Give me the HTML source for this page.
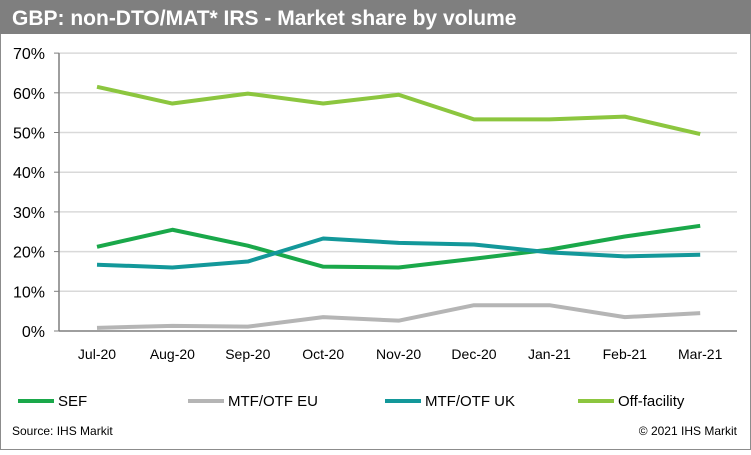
<!DOCTYPE html>
<html><head><meta charset="utf-8"><style>
body{margin:0;width:751px;height:450px;overflow:hidden;background:#fff;font-family:"Liberation Sans",Arial,sans-serif}
</style></head><body>
<svg id="chart" width="751" height="450" xmlns="http://www.w3.org/2000/svg" font-family="Liberation Sans, Arial, sans-serif">
<rect x="0.5" y="0.5" width="750" height="449" fill="#fff" stroke="#8c8c8c"/>
<rect x="0" y="0" width="751" height="34" fill="#7f7f7f"/>
<text x="12" y="25" fill="#fff" font-size="21" font-weight="bold">GBP: non-DTO/MAT* IRS - Market share by volume</text>
<g id="grid"></g><g id="series"></g>
<text x="12" y="435" font-size="12" fill="#000">Source: IHS Markit</text>
<text x="737" y="435" font-size="12" fill="#000" text-anchor="end">© 2021 IHS Markit</text>
</svg>
<script>
const categories=["Jul-20","Aug-20","Sep-20","Oct-20","Nov-20","Dec-20","Jan-21","Feb-21","Mar-21"];
const yTicks=[0,10,20,30,40,50,60,70];
const sef=[21.2,25.5,21.5,16.2,16,18.2,20.5,23.8,26.5];
const mtfEu=[0.8,1.3,1.1,3.5,2.6,6.5,6.5,3.5,4.5];
const mtfUk=[16.7,16,17.5,23.3,22.2,21.8,19.8,18.8,19.2];
const offFacility=[61.5,57.3,59.8,57.3,59.5,53.3,53.3,54,49.6];
const NS="http://www.w3.org/2000/svg";
const x=i=>97+i*75.4;
const y=v=>331-v*3.97;
const g=document.getElementById('grid'),s=document.getElementById('series');
function mk(t,a,p){const e=document.createElementNS(NS,t);for(const k in a)e.setAttribute(k,a[k]);p.appendChild(e);return e;}
yTicks.forEach(v=>{
 if(v>0){const l=mk('line',{x1:59,x2:737,y1:y(v),y2:y(v),stroke:'#d9d9d9','stroke-width':1.5},g);
 
 }
 const tk=mk('line',{x1:54,x2:59,y1:y(v),y2:y(v),stroke:'#7f7f7f'},g);
 
 
 const t=mk('text',{x:45,y:y(v)+6,'font-size':16,'text-anchor':'end',fill:'#000'},g);t.textContent=v+'%';
 
 
});
const ax=mk('line',{x1:59,x2:59,y1:y(70),y2:y(0),stroke:'#7f7f7f','stroke-width':1.5},g);


const xa=mk('line',{x1:59,x2:737,y1:y(0),y2:y(0),stroke:'#7f7f7f','stroke-width':1.5},g);


categories.forEach((c,i)=>{const t=mk('text',{x:x(i),y:359,'font-size':14,'text-anchor':'middle',fill:'#000'},g);t.textContent=c;
 
 });
const series=[["SEF",sef,"#1aa84a"],["MTF/OTF EU",mtfEu,"#b5b5b5"],["MTF/OTF UK",mtfUk,"#13989a"],["Off-facility",offFacility,"#8cc63f"]];
series.forEach(([n,d,c],k)=>{
 const p=mk('polyline',{points:d.map((v,i)=>x(i)+','+y(v)).join(' '),fill:'none',stroke:c,'stroke-width':4,'stroke-linejoin':'round'},s);
 
 
 const lx=[18,188,385,578][k];
 const l=mk('line',{x1:lx,x2:lx+36,y1:401,y2:401,stroke:c,'stroke-width':4},s);
 
 
 const t=mk('text',{x:lx+40,y:406,'font-size':15,fill:'#000'},s);t.textContent=n;
 
 
});
</script>
</body></html>
